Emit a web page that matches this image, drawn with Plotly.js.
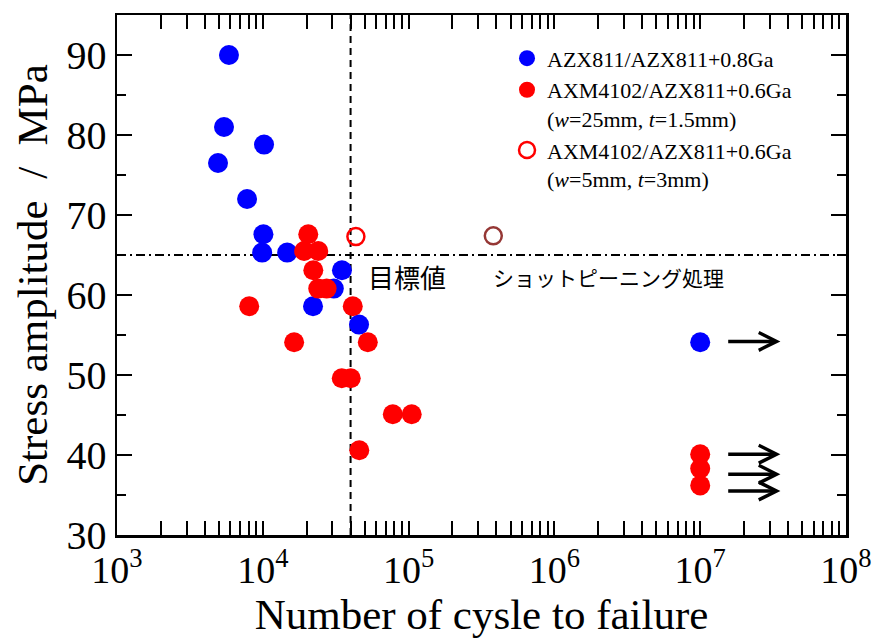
<!DOCTYPE html>
<html>
<head>
<meta charset="utf-8">
<script src="https://cdn.plot.ly/plotly-3.0.1.min.js"></script>
<style>html,body{margin:0;padding:0;background:#fff;}#chart{width:886px;height:639px;}</style>
</head>
<body>
<div id="chart"></div>
<script>
// Series 1: AZX811/AZX811+0.8Ga
const blueCycles = [5860, 5420, 4930, 10200, 7800, 10100, 9900, 14700, 34900, 30700, 22100, 45700, 1e7];
const blueStress = [90.0, 81.0, 76.5, 78.8, 72.0, 67.6, 65.3, 65.3, 63.1, 60.8, 58.6, 56.3, 54.1];
// Series 2: AXM4102/AZX811+0.6Ga (w=25mm, t=1.5mm)
const redCycles = [20500, 19200, 24000, 22200, 24000, 27400, 8070, 41400, 16400, 52500, 34800, 40100, 77900, 105000, 45900, 1e7, 1e7, 1e7];
const redStress = [67.6, 65.5, 65.5, 63.1, 60.8, 60.8, 58.6, 58.6, 54.1, 54.1, 49.6, 49.6, 45.1, 45.1, 40.6, 40.1, 38.3, 36.2];
// Series 3: AXM4102/AZX811+0.6Ga (w=5mm, t=3mm), open circles
const openCycles = [43500];
const openStress = [67.3];
// Shot-peened specimen (open, brown)
const peenCycles = [381000];
const peenStress = [67.4];
// Run-out arrows (no failure)
const runoutArrowY = [54.2, 40.1, 37.6, 35.5];
const runoutFrom = 1.52e7, runoutTo = 3.55e7;
// Reference lines
const targetCycles = 4.0e4;
const targetStress = 65;
const xRange = [1e3, 1e8];
const yRange = [30, 95];
const legendNames = [
  "AZX811/AZX811+0.8Ga",
  "AXM4102/AZX811+0.6Ga<br>(<i>w</i>=25mm, <i>t</i>=1.5mm)",
  "AXM4102/AZX811+0.6Ga<br>(<i>w</i>=5mm, <i>t</i>=3mm)"
];
const xTickVals = [1e3, 1e4, 1e5, 1e6, 1e7, 1e8];
const xTickText = ["10<sup>3</sup>", "10<sup>4</sup>", "10<sup>5</sup>", "10<sup>6</sup>", "10<sup>7</sup>", "10<sup>8</sup>"];

const serif = "Liberation Serif, Times New Roman, serif";
const jp = "Noto Sans CJK JP, sans-serif";

const traces = [
  {x: [targetCycles, targetCycles], y: yRange, mode: 'lines', showlegend: false, hoverinfo: 'skip',
   line: {color: '#000', width: 2, dash: '7px,5px'}},
  {x: xRange, y: [targetStress, targetStress], mode: 'lines', showlegend: false, hoverinfo: 'skip',
   line: {color: '#000', width: 2, dash: '9px,4px,2px,4px'}},
  {x: blueCycles, y: blueStress, mode: 'markers', name: legendNames[0],
   marker: {color: '#0000FF', size: 20}},
  {x: redCycles, y: redStress, mode: 'markers', name: legendNames[1],
   marker: {color: '#FF0000', size: 20}},
  {x: openCycles, y: openStress, mode: 'markers', name: legendNames[2],
   marker: {color: 'rgba(0,0,0,0)', size: 17, line: {color: '#FF0000', width: 2.5}}},
  {x: peenCycles, y: peenStress, mode: 'markers', showlegend: false,
   marker: {color: 'rgba(0,0,0,0)', size: 17, line: {color: '#953735', width: 2.5}}}
];

const annotations = runoutArrowY.map(y => ({
  x: Math.log10(runoutTo), y: y, ax: Math.log10(runoutFrom), ay: y,
  xref: 'x', yref: 'y', axref: 'x', ayref: 'y',
  text: '', showarrow: true, arrowhead: 5, arrowsize: 1, arrowwidth: 3.5,
  arrowcolor: '#000', standoff: 0, startstandoff: 0
}));
annotations.push({
  x: 0.342, y: 0.497, xref: 'paper', yref: 'paper', xanchor: 'left', yanchor: 'middle',
  text: '目標値', showarrow: false, font: {family: jp, size: 26, color: '#000'}
});
annotations.push({
  x: 0.513, y: 0.497, xref: 'paper', yref: 'paper', xanchor: 'left', yanchor: 'middle',
  text: 'ショットピーニング処理', showarrow: false, font: {family: jp, size: 21, color: '#000'}
});

const layout = {
  width: 886, height: 639,
  margin: {l: 117, r: 40, t: 15, b: 104},
  paper_bgcolor: '#fff', plot_bgcolor: '#fff',
  font: {family: serif, color: '#000'},
  showlegend: true,
  legend: {x: 0.535, y: 0.957, xanchor: 'left', yanchor: 'top', bgcolor: 'rgba(0,0,0,0)',
           font: {family: serif, size: 22, color: '#000'}, valign: 'top', tracegroupgap: 4},
  xaxis: {
    type: 'log', range: [Math.log10(xRange[0]), Math.log10(xRange[1])],
    tickvals: xTickVals, ticktext: xTickText,
    ticks: 'inside', ticklen: 14, tickwidth: 2, tickcolor: '#000',
    minor: {ticks: 'inside', ticklen: 14, tickwidth: 2, tickcolor: '#000', dtick: 'D1'},
    showline: true, linewidth: 2.5, linecolor: '#000', mirror: 'allticks',
    showgrid: false, zeroline: false,
    tickfont: {family: serif, size: 38, color: '#000'},
    title: {text: 'Number of cysle to failure', font: {family: serif, size: 43, color: '#000'}, standoff: 8}
  },
  yaxis: {
    range: yRange, dtick: 10, tick0: 30,
    ticks: 'inside', ticklen: 15, tickwidth: 2, tickcolor: '#000',
    minor: {ticks: 'inside', ticklen: 9, tickwidth: 2, tickcolor: '#000', dtick: 5},
    showline: true, linewidth: 2.5, linecolor: '#000', mirror: 'allticks',
    showgrid: false, zeroline: false,
    tickfont: {family: serif, size: 40, color: '#000'},
    title: {text: 'Stress amplitude  /  MPa', font: {family: serif, size: 43, color: '#000'}, standoff: 6}
  },
  annotations: annotations
};

Plotly.newPlot('chart', traces, layout, {displayModeBar: false, staticPlot: true});
</script>
</body>
</html>
